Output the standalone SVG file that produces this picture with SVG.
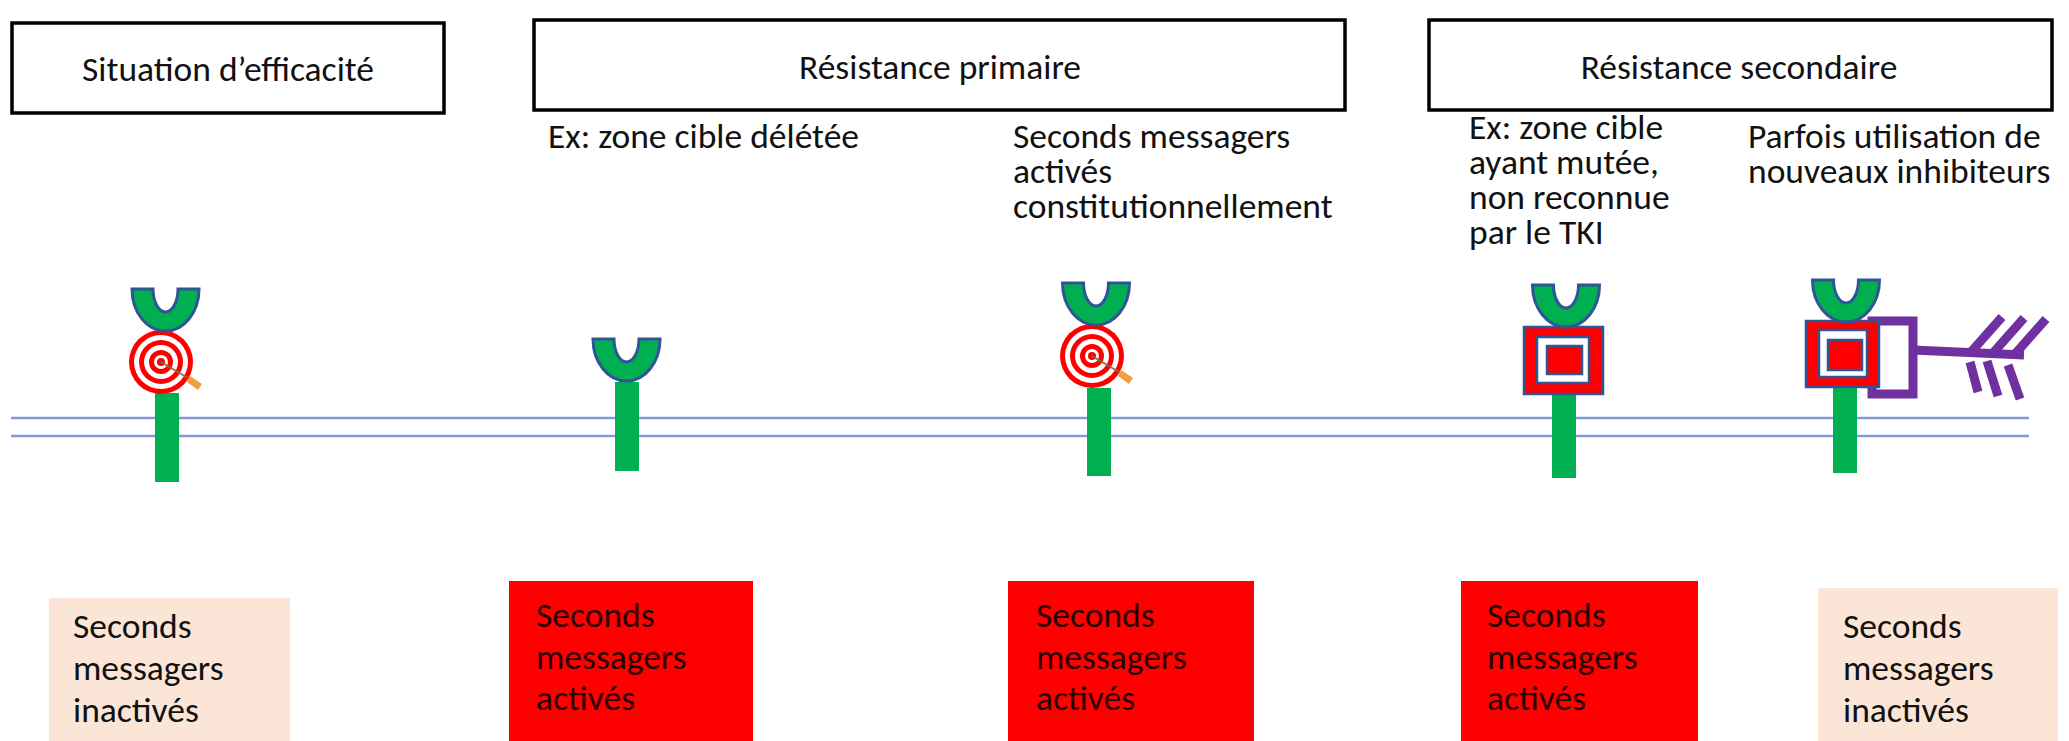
<svg xmlns="http://www.w3.org/2000/svg" width="2069" height="741" viewBox="0 0 2069 741">
  <defs>
    <style>
      .t{font-family:Carlito,Lato,"Liberation Sans",sans-serif;font-size:35.5px;fill:#111}
      .tr{font-family:Carlito,Lato,"Liberation Sans",sans-serif;font-size:35.5px;fill:#2a0000}
      .hdr{fill:#fff;stroke:#000;stroke-width:3.5}
      .cup{fill:#00b050;stroke:#2f5597;stroke-width:3}
      .stem{fill:#00b050}
      .mem{stroke:#7f9bd6;stroke-width:2.5}
      .red{fill:#ff0000}
      .peach{fill:#fbe5d6}
      .sqo{fill:#ff0000;stroke:#2f5597;stroke-width:2.5}
      .sqw{fill:#fff;stroke:#2f5597;stroke-width:2.5}
      .purple{fill:none;stroke:#7030a0;stroke-width:9}
    </style>
    <!-- receptor binding cup, origin at the middle of its flat top edge -->
    <path id="cup" class="cup" d="M-33.5,0 H-12.5 A12.5,23 0 0 0 12.5,0 H33.5 A33.5,42 0 0 1 -33.5,0 Z"/>
    <!-- bullseye with a dart, origin at the centre -->
    <g id="target">
      <circle r="32" fill="#ff0000"/>
      <circle r="27" fill="#fff"/>
      <circle r="22" fill="#ff0000"/>
      <circle r="17" fill="#fff"/>
      <circle r="12" fill="#ff0000"/>
      <circle r="7" fill="#fff"/>
      <circle r="4" fill="#ff0000"/>
      <circle r="1.5" fill="#555"/>
      <line x1="0" y1="0" x2="32" y2="19" stroke="#8a6a40" stroke-width="1.5"/>
      <path d="M29,14 L41,22 L37,28 L26,20 Z" fill="#f0a040"/>
    </g>
  </defs>

  <!-- phase headers -->
  <g id="hdr-efficacite">
    <rect class="hdr" x="12" y="23" width="432" height="90"/>
    <text class="t" x="228" y="81" text-anchor="middle">Situation d’efficacité</text>
  </g>
  <g id="hdr-primaire">
    <rect class="hdr" x="534" y="20" width="811" height="90"/>
    <text class="t" x="940" y="79" text-anchor="middle">Résistance primaire</text>
  </g>
  <g id="hdr-secondaire">
    <rect class="hdr" x="1429" y="20" width="623" height="90"/>
    <text class="t" x="1739" y="79" text-anchor="middle">Résistance secondaire</text>
  </g>

  <!-- case descriptions -->
  <g id="desc-deletee">
    <text class="t" x="548" y="148">Ex: zone cible délétée</text>
  </g>
  <g id="desc-constit">
    <text class="t" x="1013" y="148">Seconds messagers</text>
    <text class="t" x="1013" y="183">activés</text>
    <text class="t" x="1013" y="218">constitutionnellement</text>
  </g>
  <g id="desc-mutee">
    <text class="t" x="1469" y="139">Ex: zone cible</text>
    <text class="t" x="1469" y="174">ayant mutée,</text>
    <text class="t" x="1469" y="209">non reconnue</text>
    <text class="t" x="1469" y="244">par le TKI</text>
  </g>
  <g id="desc-nouveaux">
    <text class="t" x="1748" y="148">Parfois utilisation de</text>
    <text class="t" x="1748" y="183">nouveaux inhibiteurs</text>
  </g>

  <!-- cell membrane -->
  <g id="membrane">
    <line class="mem" x1="11" y1="418" x2="2029" y2="418"/>
    <line class="mem" x1="11" y1="436" x2="2029" y2="436"/>
  </g>

  <!-- receptors -->
  <g id="receptor-1">
    <rect class="stem" x="155" y="393" width="24" height="89"/>
    <use href="#target" x="161" y="362"/>
    <use href="#cup" x="165.5" y="289"/>
  </g>
  <g id="receptor-2">
    <rect class="stem" x="615" y="382" width="24" height="89"/>
    <use href="#cup" x="626.5" y="339"/>
  </g>
  <g id="receptor-3">
    <rect class="stem" x="1087" y="388" width="24" height="88"/>
    <use href="#target" x="1092" y="356"/>
    <use href="#cup" x="1096" y="283"/>
  </g>
  <g id="receptor-4">
    <rect class="stem" x="1552" y="391" width="24" height="87"/>
    <rect class="sqo" x="1524" y="327" width="79" height="67"/>
    <rect class="sqw" x="1537" y="337" width="52" height="46"/>
    <rect class="sqo" x="1547" y="346" width="35" height="28"/>
    <use href="#cup" x="1566" y="285"/>
  </g>
  <g id="receptor-5">
    <rect class="stem" x="1833" y="386" width="24" height="87"/>
    <rect class="purple" x="1872" y="321" width="41" height="73"/>
    <rect class="sqo" x="1806" y="321" width="73" height="66"/>
    <rect class="sqw" x="1819" y="330" width="48" height="47"/>
    <rect class="sqo" x="1828" y="340" width="34" height="30"/>
    <use href="#cup" x="1846" y="280"/>
  </g>

  <!-- new inhibitor arrow -->
  <g id="inhibitor" stroke="#7030a0" stroke-width="9" fill="none">
    <line x1="1913" y1="350" x2="2024" y2="355"/>
    <line x1="1971" y1="352" x2="2002" y2="317"/>
    <line x1="1993" y1="353" x2="2024" y2="318"/>
    <line x1="2015" y1="354" x2="2046" y2="319"/>
    <line x1="1970" y1="362" x2="1978" y2="392"/>
    <line x1="1987" y1="361" x2="1998" y2="396"/>
    <line x1="2008" y1="365" x2="2020" y2="399"/>
  </g>

  <!-- second messenger states -->
  <g id="state-1">
    <rect class="peach" x="49" y="598" width="241" height="143"/>
    <text class="t" x="73" y="638">Seconds</text>
    <text class="t" x="73" y="680">messagers</text>
    <text class="t" x="73" y="722">inactivés</text>
  </g>
  <g id="state-2">
    <rect class="red" x="509" y="581" width="244" height="160"/>
    <text class="tr" x="536" y="627">Seconds</text>
    <text class="tr" x="536" y="669">messagers</text>
    <text class="tr" x="536" y="710">activés</text>
  </g>
  <g id="state-3">
    <rect class="red" x="1008" y="581" width="246" height="160"/>
    <text class="tr" x="1036" y="627">Seconds</text>
    <text class="tr" x="1036" y="669">messagers</text>
    <text class="tr" x="1036" y="710">activés</text>
  </g>
  <g id="state-4">
    <rect class="red" x="1461" y="581" width="237" height="160"/>
    <text class="tr" x="1487" y="627">Seconds</text>
    <text class="tr" x="1487" y="669">messagers</text>
    <text class="tr" x="1487" y="710">activés</text>
  </g>
  <g id="state-5">
    <rect class="peach" x="1818" y="588" width="240" height="153"/>
    <text class="t" x="1843" y="638">Seconds</text>
    <text class="t" x="1843" y="680">messagers</text>
    <text class="t" x="1843" y="722">inactivés</text>
  </g>
</svg>
